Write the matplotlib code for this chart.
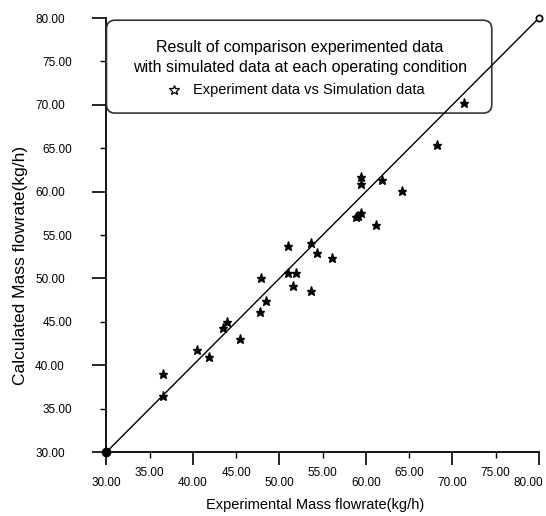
import numpy as np
import matplotlib
matplotlib.use('Agg')
import matplotlib.pyplot as plt
import matplotlib.transforms as mtransforms
from matplotlib.patches import FancyBboxPatch

plt.rcParams['font.family'] = ['Liberation Sans', 'DejaVu Sans']

# experiment vs simulation (kg/h)
exp_flow = [36.5, 36.5, 40.5, 41.9, 43.5, 43.9, 45.4, 47.8, 47.9, 48.4,
            51.0, 51.0, 51.6, 51.9, 53.6, 53.6, 54.4, 56.1, 58.9, 59.1,
            59.4, 59.4, 59.4, 61.2, 61.9, 64.2, 68.2, 71.3]
sim_flow = [39.0, 36.4, 41.7, 40.9, 44.3, 45.0, 43.0, 46.1, 50.0, 47.4,
            53.7, 50.6, 49.1, 50.6, 54.1, 48.6, 52.9, 52.3, 57.1, 57.2,
            57.5, 60.9, 61.7, 56.2, 61.3, 60.1, 65.4, 70.2]
ideal = [30, 80]
major_ticks = [30, 40, 50, 60, 70, 80]
minor_ticks = [35, 45, 55, 65, 75]

fig = plt.figure(figsize=(5.46, 5.16), dpi=100)
ax = fig.add_axes([0.195, 0.124, 0.792, 0.841])

# parity line with end markers
ax.plot(ideal, ideal, color='black', lw=1.0, clip_on=False, zorder=6)
ax.plot(ideal[0], ideal[0], 'o', color='black', ms=6, clip_on=False, zorder=7)
ax.plot(ideal[1], ideal[1], 'o', mfc='white', mec='black', mew=1.2, ms=4.5,
        clip_on=False, zorder=7)
ax.plot(exp_flow, sim_flow, '*', color='black', ms=6.5, lw=0, zorder=7)

ax.set_xlim(30, 80)
ax.set_ylim(30, 80)
ax.spines['top'].set_visible(False)
ax.spines['right'].set_visible(False)
for s in ['left', 'bottom']:
    ax.spines[s].set_linewidth(1.3)

ax.set_xticks(major_ticks)
ax.set_xticks(minor_ticks, minor=True)
ax.set_yticks(major_ticks)
ax.set_yticks(minor_ticks, minor=True)
ax.set_xticklabels(['%.2f' % t for t in major_ticks])
ax.set_xticklabels(['%.2f' % t for t in minor_ticks], minor=True)
ax.set_yticklabels(['%.2f' % t for t in major_ticks])
ax.set_yticklabels(['%.2f' % t for t in minor_ticks], minor=True)

ax.tick_params(axis='x', which='major', direction='out', length=9, width=1.2, pad=9)
ax.tick_params(axis='x', which='minor', direction='out', length=4, width=1.0, pad=7)
ax.tick_params(axis='y', which='major', direction='out', length=10, width=1.2, pad=20)
ax.tick_params(axis='y', which='minor', direction='out', length=4.5, width=1.0, pad=20)
for lab in ax.get_xticklabels(which='both') + ax.get_yticklabels(which='both'):
    lab.set_fontsize(8.5)

# last x label sits at the right edge, nudge it in
last = ax.get_xticklabels()[-1]
last.set_transform(last.get_transform() + mtransforms.ScaledTranslation(-11/100, 0, fig.dpi_scale_trans))

fig.text(0.577, 0.021, 'Experimental Mass flowrate(kg/h)', ha='center', va='center',
         fontsize=10.5)
fig.text(0.038, 0.485, 'Calculated Mass flowrate(kg/h)', ha='center', va='center',
         rotation=90, fontsize=12.5)

# legend box
box = FancyBboxPatch((0.0, 0.781), 0.891, 0.214, boxstyle='round,pad=0,rounding_size=0.02',
                     transform=ax.transAxes, facecolor='white', edgecolor='#333333',
                     lw=1.2, clip_on=False, zorder=4)
ax.add_patch(box)
ax.text(0.447, 0.933, 'Result of comparison experimented data', transform=ax.transAxes,
        ha='center', va='center', fontsize=11.5, zorder=5)
ax.text(0.447, 0.885, 'with simulated data at each operating condition', transform=ax.transAxes,
        ha='center', va='center', fontsize=11.5, zorder=5)
ax.plot([0.156], [0.834], '*', mfc='white', mec='black', mew=0.9, ms=7,
        transform=ax.transAxes, clip_on=False, zorder=5)
ax.text(0.2, 0.834, 'Experiment data vs Simulation data', transform=ax.transAxes,
        ha='left', va='center', fontsize=10.5, zorder=5)

fig.savefig('out.png', dpi=100)
